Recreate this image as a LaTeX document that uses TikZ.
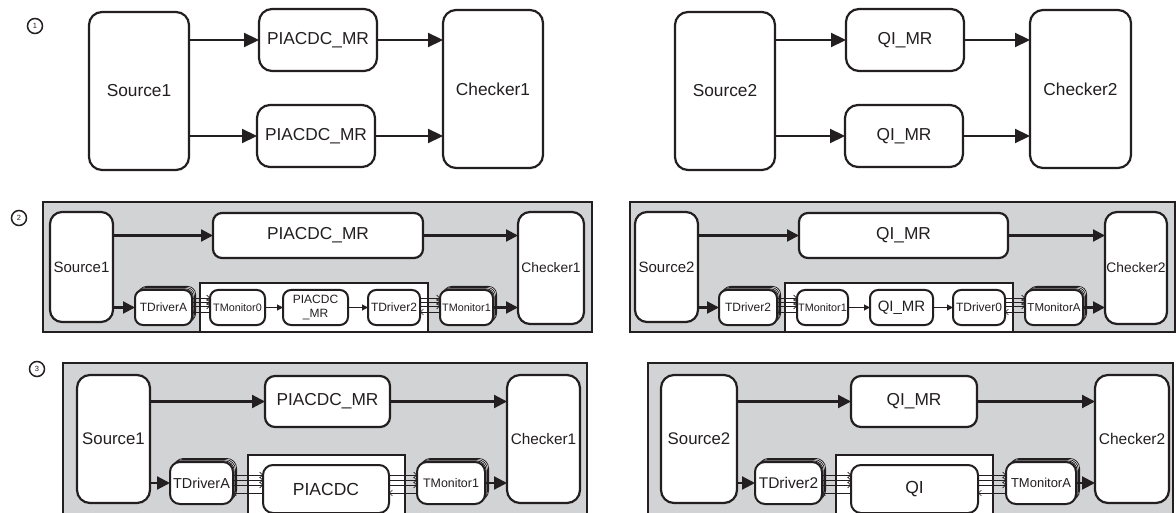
\documentclass[tikz,border=0pt]{standalone}
\usepackage{fontspec}
\setmainfont{Liberation Sans}
\usetikzlibrary{arrows.meta,shadows,calc}
\definecolor{ink}{HTML}{231F20}
\definecolor{panel}{HTML}{D1D3D4}
\newcommand\fs[1]{\fontsize{#1}{#1}\selectfont}
% [style]{name}{x1}{y1}{x2}{y2}{text}
\newcommand\bx[7][]{%
  \node[#1, minimum width={(#5)-(#3)}, minimum height={(#6)-(#4)}]
    (#2) at ({((#3)+(#5))/2},{((#4)+(#6))/2}) {#7};}
% bundle of wires: left node, right node, three forward offsets, return offset (pixels, down positive)
\newcommand\bundle[6]{%
  \foreach \o in {#3,#4,#5} {\draw[bl] ($(#1.east)+(0,\o)$) -- ($(#1.east -| #2.west)+(0,\o)$);}
  \draw[bl] ($(#1.east -| #2.west)+(0,#6)$) -- ($(#1.east)+(0,#6)$);}
\begin{document}
\begin{tikzpicture}[x=1pt,y=-1pt,
  box/.style={draw=ink, line width=2.2pt, fill=white, rounded corners=12pt, inner sep=0pt,
    outer sep=0pt, text=ink, align=center},
  r1/.style={box, rounded corners=13pt, font=\fs{17.3}},
  tall/.style={box, rounded corners=12pt},
  mid/.style={box, rounded corners=9pt, font=\fs{17.3}},
  small/.style={box, line width=2pt, rounded corners=8pt},
  small3/.style={box, line width=2pt, rounded corners=10pt},
  stk/.style={
    copy shadow={shadow xshift=3.6pt, shadow yshift=3.6pt, fill=white, draw=ink, line width=0.8pt},
    copy shadow={shadow xshift=2.4pt, shadow yshift=2.4pt, fill=white, draw=ink, line width=0.8pt},
    copy shadow={shadow xshift=1.2pt, shadow yshift=1.2pt, fill=white, draw=ink, line width=0.8pt}},
  frame/.style={fill=panel, draw=ink, line width=2.2pt},
  innerbox/.style={fill=white, draw=ink, line width=2.2pt},
  arr1/.style={draw=ink, line width=2.2pt, -{Triangle[length=15pt,width=14pt]}},
  arr2/.style={draw=ink, line width=2.2pt, -{Triangle[length=12pt,width=12pt]}},
  arr3/.style={draw=ink, line width=2.2pt, -{Triangle[length=13pt,width=13pt]}},
  thinarr/.style={draw=ink, line width=1.1pt, -{Triangle[length=6pt,width=6pt]}},
  bl/.style={draw=ink, line width=0.6pt, -{Straight Barb[length=3pt,width=6pt]}},
  num/.style={circle, draw=ink, line width=1.5pt, minimum size=15pt, inner sep=0pt,
    font=\fs{7.5}, text=ink}]
\useasboundingbox (0,0) rectangle (1176,513);
\clip (0,0) rectangle (1176,513);

% ---------------- Row 1 ----------------
\node[num] (n1) at (35,26) {1};
\bx[r1]{s1a}{89}{12}{189}{170}{Source1}
\bx[r1]{p1a}{259}{9}{377}{71}{PIACDC\_MR}
\bx[r1]{p1b}{257}{105}{375}{167}{PIACDC\_MR}
\bx[r1]{c1a}{443}{10}{543}{168}{Checker1}
\draw[arr1] (s1a.east |- p1a) -- (p1a.west);
\draw[arr1] (s1a.east |- p1b) -- (p1b.west);
\draw[arr1] (p1a.east) -- (c1a.west |- p1a);
\draw[arr1] (p1b.east) -- (c1a.west |- p1b);

\bx[r1]{s2a}{675}{12}{775}{170}{Source2}
\bx[r1]{q1a}{846}{9}{964}{71}{QI\_MR}
\bx[r1]{q1b}{845}{105}{963}{167}{QI\_MR}
\bx[r1]{c2a}{1030}{10}{1131}{168}{Checker2}
\draw[arr1] (s2a.east |- q1a) -- (q1a.west);
\draw[arr1] (s2a.east |- q1b) -- (q1b.west);
\draw[arr1] (q1a.east) -- (c2a.west |- q1a);
\draw[arr1] (q1b.east) -- (c2a.west |- q1b);

% ---------------- Row 2 ----------------
\node[num] (n2) at (19,218) {2};
\draw[frame] (43,202) rectangle (592,332);
\draw[innerbox] (200,283) rectangle (428,332);
\draw[ink, line width=2.2pt] (43,332) -- (592,332);
\bx[tall, font=\fs{15}]{s1b}{50}{212}{113}{322}{Source1}
\bx[mid]{m1b}{213}{213}{423}{258}{PIACDC\_MR}
\bx[tall, font=\fs{13.8}]{c1b}{518}{212}{584}{324}{Checker1}
\bx[small, stk, font=\fs{12}]{tda}{135}{290}{192}{325}{TDriverA}
\bx[small, font=\fs{10.8}]{tm0}{210}{290}{265}{325}{TMonitor0}
\bx[small, font={\fontsize{12}{14}\selectfont}]{pmr}{283}{290}{348}{325}{PIACDC\\\_MR}
\bx[small, font=\fs{12}]{td2}{368}{290}{420}{325}{TDriver2}
\bx[small, stk, font=\fs{10.8}]{tm1}{440}{290}{493}{325}{TMonitor1}
\draw[arr2] (s1b.east |- m1b) -- (m1b.west);
\draw[arr2] (m1b.east) -- (c1b.west |- m1b);
\draw[arr2] (s1b.east |- tda) -- (tda.west);
\draw[thinarr] (tm0.east) -- (pmr.west);
\draw[thinarr] (pmr.east) -- (td2.west);
\draw[arr2] (tm1.east) -- (c1b.west |- tm1);
\bundle{tda}{tm0}{-9.5}{-5.5}{-1.5}{4.5}
\bundle{td2}{tm1}{-9.5}{-5.5}{-1.5}{4.5}

\draw[frame] (630,202) rectangle (1175,332);
\draw[innerbox] (785,283) rectangle (1013,332);
\draw[ink, line width=2.2pt] (630,332) -- (1175,332);
\bx[tall, font=\fs{15}]{s2b}{635}{212}{698}{322}{Source2}
\bx[mid]{q2b}{799}{213}{1008}{258}{QI\_MR}
\bx[tall, font=\fs{13.8}]{c2b}{1105}{212}{1167}{324}{Checker2}
\bx[small, stk, font=\fs{12}]{td2r}{719}{290}{777}{325}{TDriver2}
\bx[small, font=\fs{10.8}]{tm1r}{797}{290}{848}{325}{TMonitor1}
\bx[small, font=\fs{15}]{qmr}{870}{290}{933}{325}{QI\_MR}
\bx[small, font=\fs{12}]{td0}{953}{290}{1005}{325}{TDriver0}
\bx[small, stk, font=\fs{11.5}]{tma}{1025}{290}{1083}{325}{TMonitorA}
\draw[arr2] (s2b.east |- q2b) -- (q2b.west);
\draw[arr2] (q2b.east) -- (c2b.west |- q2b);
\draw[arr2] (s2b.east |- td2r) -- (td2r.west);
\draw[thinarr] (tm1r.east) -- (qmr.west);
\draw[thinarr] (qmr.east) -- (td0.west);
\draw[arr2] (tma.east) -- (c2b.west |- tma);
\bundle{td2r}{tm1r}{-9.5}{-5.5}{-1.5}{4.5}
\bundle{td0}{tma}{-9.5}{-5.5}{-1.5}{4.5}

% ---------------- Row 3 ----------------
\node[num] (n3) at (37,369) {3};
\draw[frame] (63,363) rectangle (587,520);
\draw[innerbox] (248,455) rectangle (405,520);
\bx[tall, rounded corners=13pt, font=\fs{16.8}]{s1c}{77}{375}{150}{503}{Source1}
\bx[mid, rounded corners=10pt]{m1c}{265}{376}{390}{427}{PIACDC\_MR}
\bx[tall, rounded corners=13pt, font=\fs{15.3}]{c1c}{507}{375}{580}{503}{Checker1}
\bx[small3, stk, font=\fs{14.4}]{tdac}{170}{462}{233}{504}{TDriverA}
\bx[small3, font=\fs{17.5}]{pc}{263}{465}{389}{513}{PIACDC}
\bx[small3, stk, font=\fs{12.4}]{tm1c}{417}{462}{485}{504}{TMonitor1}
\draw[arr3] (s1c.east |- m1c) -- (m1c.west);
\draw[arr3] (m1c.east) -- (c1c.west |- m1c);
\draw[arr3] (s1c.east |- tdac) -- (tdac.west);
\draw[arr3] (tm1c.east) -- (c1c.west |- tm1c);
\bundle{tdac}{pc}{-8}{-3}{2}{10}
\bundle{pc}{tm1c}{-14}{-9}{-4}{4}

\draw[frame] (648,363) rectangle (1173,520);
\draw[innerbox] (836,455) rectangle (993,520);
\bx[tall, rounded corners=13pt, font=\fs{16.8}]{s2c}{661}{375}{737}{503}{Source2}
\bx[mid, rounded corners=10pt]{q3c}{851}{376}{977}{427}{QI\_MR}
\bx[tall, rounded corners=13pt, font=\fs{15.5}]{c2c}{1095}{375}{1169}{503}{Checker2}
\bx[small3, stk, font=\fs{15.5}]{td2c}{755}{462}{822}{504}{TDriver2}
\bx[small3, font=\fs{17.5}]{qc}{851}{465}{978}{513}{QI}
\bx[small3, stk, font=\fs{13}]{tmac}{1006}{462}{1076}{504}{TMonitorA}
\draw[arr3] (s2c.east |- q3c) -- (q3c.west);
\draw[arr3] (q3c.east) -- (c2c.west |- q3c);
\draw[arr3] (s2c.east |- td2c) -- (td2c.west);
\draw[arr3] (tmac.east) -- (c2c.west |- tmac);
\bundle{td2c}{qc}{-8}{-3}{2}{10}
\bundle{qc}{tmac}{-14}{-9}{-4}{4}
\end{tikzpicture}
\end{document}
